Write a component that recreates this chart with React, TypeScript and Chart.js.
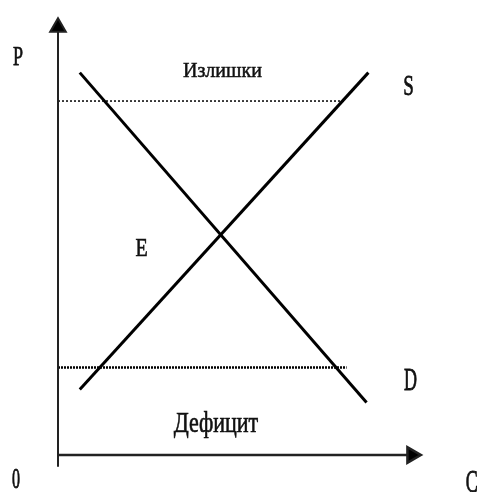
import React, { useEffect, useRef } from "react";
import { Chart, registerables } from "chart.js";

Chart.register(...registerables);

// Demand (D) and supply (S) lines: quantity and price at their two ends
const demandQ = [0.6, 8.5];
const demandP = [8.75, 1.2];
const supplyQ = [0.6, 8.55];
const supplyP = [1.5, 8.75];

// Price levels marking surplus (above equilibrium) and deficit (below)
const surplusPrice = 8.1;
const surplusQEnd = 7.9;
const deficitPrice = 2.0;
const deficitQEnd = 7.95;

// Axes
const axisQMax = 9.75;
const axisPMax = 9.79;
const axisPMin = -0.27;

// Text labels
const labelTexts = ["P", "Излишки", "S", "E", "D", "Дефицит", "0", "C"];
const labelQ = [-1.1, 4.53, 9.66, 2.3, 9.71, 4.35, -1.16, 11.4];
const labelP = [8.92, 8.65, 8.24, 4.55, 1.49, 0.53, -0.76, -0.85];
const labelSize = [18, 20, 19, 20, 18, 22, 16, 18];
const labelStretch = [1.5, 1.06, 1.6, 1.3, 1.8, 1.3, 1.85, 1.8];

const FONT = '"Liberation Serif"';

const labelPlugin = {
  id: "textLabels",
  afterDraw(chart: any) {
    const ctx = chart.ctx;
    const xs = chart.scales.x;
    const ys = chart.scales.y;
    ctx.save();
    ctx.fillStyle = "#111";
    ctx.strokeStyle = "#111";
    ctx.textAlign = "center";
    ctx.textBaseline = "alphabetic";
    labelTexts.forEach((t, i) => {
      const px = xs.getPixelForValue(labelQ[i]);
      const py = ys.getPixelForValue(labelP[i]);
      ctx.save();
      ctx.translate(px, py);
      ctx.scale(1, labelStretch[i]);
      ctx.font = `${labelSize[i]}px ${FONT}, serif`;
      ctx.lineWidth = 0.5;
      ctx.fillText(t, 0, 0);
      ctx.strokeText(t, 0, 0);
      ctx.restore();
    });
    ctx.restore();
  },
};

export default function App() {
  const ref = useRef<HTMLCanvasElement | null>(null);

  useEffect(() => {
    let chart: Chart | null = null;
    let cancelled = false;
    const pts = (q: number[], p: number[]) => q.map((v, i) => ({ x: v, y: p[i] }));
    const build = () => {
      if (cancelled || !ref.current) return;
      chart = new Chart(ref.current, {
        type: "scatter",
        data: {
          datasets: [
            {
              label: "P axis",
              data: [
                { x: 0, y: axisPMin },
                { x: 0, y: axisPMax },
              ],
              showLine: true,
              borderColor: "#222",
              backgroundColor: "#000",
              borderWidth: 2,
              pointRadius: [0, 9],
              pointStyle: "triangle",
              pointRotation: 0,
              clip: false,
            } as any,
            {
              label: "Q axis",
              data: [
                { x: 0, y: 0 },
                { x: axisQMax, y: 0 },
              ],
              showLine: true,
              borderColor: "#222",
              backgroundColor: "#000",
              borderWidth: 2.5,
              pointRadius: [0, 9],
              pointStyle: "triangle",
              pointRotation: 90,
              clip: false,
            } as any,
            {
              label: "surplus price",
              data: [
                { x: 0, y: surplusPrice },
                { x: surplusQEnd, y: surplusPrice },
              ],
              showLine: true,
              borderColor: "#000",
              borderWidth: 1.5,
              borderDash: [2, 2],
              pointRadius: 0,
              clip: false,
            },
            {
              label: "deficit price",
              data: [
                { x: 0, y: deficitPrice },
                { x: deficitQEnd, y: deficitPrice },
              ],
              showLine: true,
              borderColor: "#000",
              borderWidth: 2.5,
              borderDash: [2, 1],
              pointRadius: 0,
              clip: false,
            },
            {
              label: "D",
              data: pts(demandQ, demandP),
              showLine: true,
              borderColor: "#000",
              borderWidth: 3,
              pointRadius: 0,
              clip: false,
            },
            {
              label: "S",
              data: pts(supplyQ, supplyP),
              showLine: true,
              borderColor: "#000",
              borderWidth: 3,
              pointRadius: 0,
              clip: false,
            },
          ],
        },
        options: {
          animation: false,
          responsive: false,
          devicePixelRatio: 1,
          layout: { padding: { left: 58, right: 56, top: 18, bottom: 37 } },
          plugins: {
            legend: { display: false },
            tooltip: { enabled: false },
          },
          scales: {
            x: { type: "linear", min: 0, max: 10, display: false },
            y: { type: "linear", min: 0, max: 10, display: false },
          },
        },
        plugins: [labelPlugin],
      });
    };
    const fonts = (document as any).fonts;
    if (fonts && fonts.load) {
      Promise.all([fonts.load(`20px ${FONT}`, "ИзлишкиДефицит PESDC0")])
        .catch(() => undefined)
        .then(build);
    } else {
      build();
    }
    return () => {
      cancelled = true;
      if (chart) chart.destroy();
    };
  }, []);

  return (
    <div style={{ position: "absolute", left: 0, top: 0, width: 477, height: 492, background: "#fff" }}>
      <canvas ref={ref} width={477} height={492} />
    </div>
  );
}
